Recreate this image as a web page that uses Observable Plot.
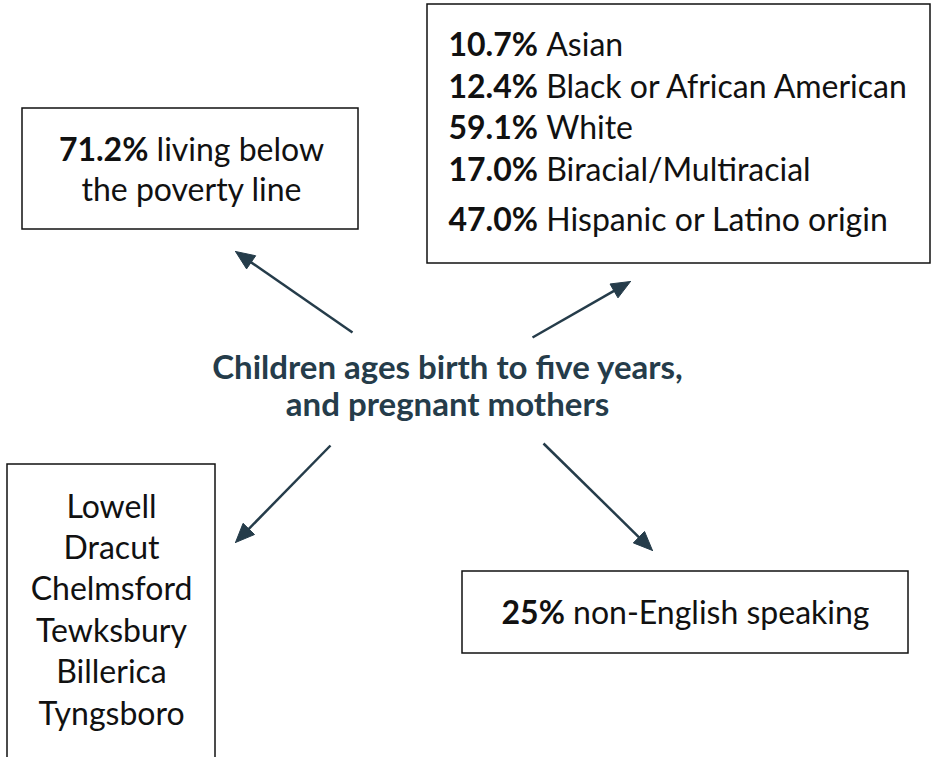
<!DOCTYPE html>
<html><head><meta charset="utf-8">
<script src="https://cdn.jsdelivr.net/npm/d3@7"></script>
<script src="https://cdn.jsdelivr.net/npm/@observablehq/plot@0.6"></script>
<style>html,body{margin:0;padding:0;background:#fff;} svg{display:block}</style>
</head><body><div id="chart"></div>
<script>
// ---- content ----
const centerLines = ["Children ages birth to five years,", "and pregnant mothers"];
const povertyPct = "71.2%";
const povertyText = ["living below", "the poverty line"];
const racePcts = ["10.7%", "12.4%", "59.1%", "17.0%", "47.0%"];
const raceGroups = ["Asian", "Black or African American", "White", "Biracial/Multiracial", "Hispanic or Latino origin"];
const towns = ["Lowell", "Dracut", "Chelmsford", "Tewksbury", "Billerica", "Tyngsboro"];
const languagePct = "25%";
const languageText = "non-English speaking";

// ---- layout ----
const W = 932, H = 757;
const FONT = "Lato, 'Open Sans', sans-serif";
const FS = 32, FS_C = 33;
const INK = "#253c4a";
const boxes = [
  {x1: 22, x2: 358, y1: 108, y2: 229},
  {x1: 427, x2: 930, y1: 4, y2: 263},
  {x1: 7, x2: 215, y1: 464, y2: 800},
  {x1: 462, x2: 908, y1: 571, y2: 653}
];
const arrows = [
  {x1: 352, y1: 332, x2: 235, y2: 251},
  {x1: 532, y1: 337, x2: 630, y2: 281},
  {x1: 330, y1: 445, x2: 235, y2: 542},
  {x1: 543, y1: 443, x2: 652, y2: 550}
];
const HEAD_L = 19, HEAD_W = 8;

const ctx = document.createElement("canvas").getContext("2d");
function tw(t, bold) { ctx.font = `${bold ? "bold " : ""}${FS}px Lato`; return ctx.measureText(t).width; }

// text rows
const boldRows = [], regRows = [], midRows = [];
function mixedCentered(cx, y, b, r) {
  const wb = tw(b, true), ws = tw(" ", false), wr = tw(r, false);
  const x0 = cx - (wb + ws + wr) / 2;
  boldRows.push({x: x0, y, t: b});
  regRows.push({x: x0 + wb + ws, y, t: r});
}
function mixedLeft(x0, y, b, r) {
  const wb = tw(b, true), ws = tw(" ", false);
  boldRows.push({x: x0, y, t: b});
  regRows.push({x: x0 + wb + ws, y, t: r});
}
mixedCentered(191, 160, povertyPct, povertyText[0]);
midRows.push({x: 191, y: 200, t: povertyText[1]});
const raceY = [55, 97, 138, 180, 230];
racePcts.forEach((p, i) => mixedLeft(448, raceY[i], p, raceGroups[i]));
towns.forEach((t, i) => midRows.push({x: 111, y: 517 + i * 41.4, t}));
mixedCentered(685, 623, languagePct, languageText);
const centerRows = centerLines.map((t, i) => ({x: 447, y: 378 + i * 37, t}));

// arrow shafts and heads
const shafts = [], heads = [];
arrows.forEach((a, i) => {
  const dx = a.x2 - a.x1, dy = a.y2 - a.y1, L = Math.hypot(dx, dy);
  const ux = dx / L, uy = dy / L, nx = -uy, ny = ux;
  const bx = a.x2 - HEAD_L * ux, by = a.y2 - HEAD_L * uy;
  shafts.push({x1: a.x1, y1: a.y1, x2: bx + 3 * ux, y2: by + 3 * uy});
  heads.push({id: i, x: a.x2, y: a.y2}, {id: i, x: bx + HEAD_W * nx, y: by + HEAD_W * ny}, {id: i, x: bx - HEAD_W * nx, y: by - HEAD_W * ny}, {id: i, x: a.x2, y: a.y2});
});

const plot = Plot.plot({
  width: W, height: H, margin: 0,
  x: {domain: [0, W], axis: null},
  y: {domain: [H, 0], axis: null},
  style: {background: "#fff", fontFamily: FONT},
  marks: [
    Plot.rect(boxes, {x1: "x1", x2: "x2", y1: "y1", y2: "y2", fill: "white", stroke: "#111", strokeWidth: 1.5}),
    Plot.link(shafts, {x1: "x1", y1: "y1", x2: "x2", y2: "y2", stroke: INK, strokeWidth: 2.5}),
    Plot.line(heads, {x: "x", y: "y", z: "id", fill: INK, stroke: INK, strokeWidth: 1}),
    Plot.text(boldRows, {x: "x", y: "y", text: "t", textAnchor: "start", lineAnchor: "bottom", fontSize: FS, fontWeight: "bold", fill: "#111"}),
    Plot.text(regRows, {x: "x", y: "y", text: "t", textAnchor: "start", lineAnchor: "bottom", fontSize: FS, fill: "#111"}),
    Plot.text(midRows, {x: "x", y: "y", text: "t", textAnchor: "middle", lineAnchor: "bottom", fontSize: FS, fill: "#111"}),
    Plot.text(centerRows, {x: "x", y: "y", text: "t", textAnchor: "middle", lineAnchor: "bottom", fontSize: FS_C, fontWeight: "bold", fill: INK})
  ]
});
document.getElementById("chart").appendChild(plot);
</script></body></html>
